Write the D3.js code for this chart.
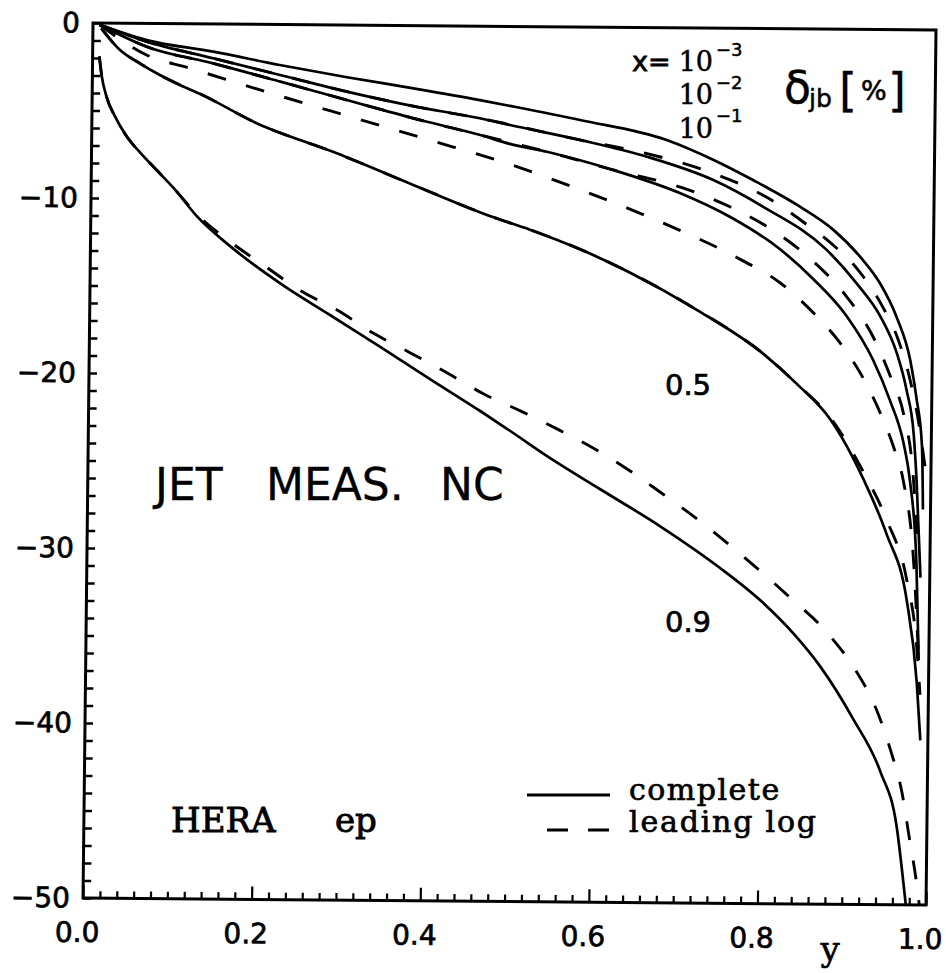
<!DOCTYPE html>
<html>
<head>
<meta charset="utf-8">
<script src="https://cdn.jsdelivr.net/npm/d3@7"></script>
<style>
  body { margin: 0; background: #fff; }
  svg { display: block; }
</style>
</head>
<body>
<svg id="chart" width="946" height="973"></svg>
<script>
// delta_jb [%] versus y for several x, HERA ep, jet measurement NC.
// Each series is a list of [y, delta] pairs.

// complete calculation
const completeX1e3 = [[0.008,-0.1],[0.064,-0.95],[0.143,-1.58],[0.222,-2.31],[0.302,-2.98],[0.381,-3.58],[0.46,-4.22],[0.496,-4.54],[0.579,-5.31],[0.682,-6.41],[0.738,-7.53],[0.785,-8.66],[0.841,-10.16],[0.881,-11.47],[0.913,-12.99],[0.937,-14.5],[0.957,-16.4],[0.974,-18.9],[0.982,-21.1],[0.989,-23.8],[0.991,-27.4]];
const completeX1e2 = [[0.008,-0.1],[0.064,-1.04],[0.143,-1.96],[0.2225,-2.88],[0.302,-3.8],[0.381,-4.6],[0.46,-5.26],[0.496,-5.63],[0.579,-6.45],[0.659,-7.38],[0.738,-8.68],[0.798,-10.2],[0.873,-12.6],[0.909,-14.5],[0.938,-16.4],[0.958,-18.5],[0.970,-20.6],[0.979,-23.1],[0.983,-25.7],[0.989,-31.3]];
const completeX1e1 = [[0.008,-0.1],[0.064,-1.33],[0.143,-2.25],[0.223,-3.26],[0.302,-4.28],[0.381,-5.29],[0.461,-6.22],[0.496,-6.71],[0.54,-7.14],[0.619,-8.15],[0.699,-9.45],[0.758,-10.77],[0.818,-12.6],[0.858,-14.3],[0.898,-16.4],[0.93,-18.9],[0.9505,-21.2],[0.967,-23.6],[0.975,-25.7],[0.984,-30.5],[0.988,-36.0]];
const completeX05 = [[0.01,-0.3],[0.0324,-1.53],[0.056,-2.28],[0.08,-2.94],[0.104,-3.5],[0.128,-4.0],[0.1955,-5.65],[0.291,-7.33],[0.382,-9.1],[0.477,-10.9],[0.521,-11.6],[0.581,-12.7],[0.64,-14.0],[0.72,-16.1],[0.80,-18.6],[0.84,-20.3],[0.88,-22.3],[0.92,-25.7],[0.948,-28.8],[0.973,-32.6],[0.986,-37.3],[0.991,-40.6]];
const completeX09 = [[0.008,-1.9],[0.011,-3.0],[0.017,-4.2],[0.027,-5.3],[0.042,-6.5],[0.058,-7.4],[0.078,-8.4],[0.098,-9.4],[0.126,-11.0],[0.166,-12.7],[0.226,-14.8],[0.286,-16.6],[0.346,-18.4],[0.405,-20.2],[0.465,-22.0],[0.5,-23.1],[0.55,-24.7],[0.608,-26.4],[0.68,-28.5],[0.75,-30.8],[0.80,-32.7],[0.84,-34.6],[0.871,-36.4],[0.911,-39.4],[0.944,-42.4],[0.964,-45.5],[0.973,-48.8],[0.976,-50]];

// leading log approximation
const leadingX1e3 = [[0.008,-0.1],[0.064,-1.04],[0.143,-1.96],[0.2225,-2.88],[0.302,-3.8],[0.381,-4.6],[0.46,-5.26],[0.579,-6.45],[0.659,-7.2],[0.738,-8.3],[0.8,-9.6],[0.85,-11.2],[0.88,-12.3],[0.91,-13.7],[0.94,-15.8],[0.96,-17.8],[0.975,-20.2],[0.985,-22.5],[0.993,-25.0]];
const leadingX1e2 = [[0.008,-0.1],[0.064,-1.33],[0.143,-2.25],[0.223,-3.26],[0.302,-4.28],[0.381,-5.29],[0.461,-6.22],[0.54,-7.14],[0.619,-8.15],[0.699,-9.1],[0.758,-10.2],[0.818,-11.8],[0.858,-13.3],[0.898,-15.3],[0.93,-17.6],[0.9505,-19.8],[0.967,-22.0],[0.978,-25.0],[0.986,-30.0]];
const leadingX1e1 = [[0.008,-0.1],[0.064,-1.8],[0.1157,-2.54],[0.212,-3.93],[0.309,-5.27],[0.403,-6.56],[0.493,-7.82],[0.56,-8.94],[0.671,-11.0],[0.771,-13.2],[0.818,-14.5],[0.858,-16.2],[0.89,-17.9],[0.915,-19.65],[0.939,-21.9],[0.955,-23.8],[0.967,-25.7],[0.98,-30.0],[0.988,-36.0]];
const leadingX05 = [[0.01,-0.3],[0.0324,-1.53],[0.056,-2.28],[0.08,-2.94],[0.104,-3.5],[0.128,-4.0],[0.1955,-5.65],[0.291,-7.33],[0.382,-9.1],[0.477,-10.9],[0.521,-11.6],[0.581,-12.7],[0.64,-14.0],[0.72,-16.1],[0.80,-18.6],[0.84,-20.3],[0.88,-22.2],[0.92,-25.3],[0.948,-28.0],[0.973,-31.5],[0.985,-35.0],[0.99,-38.0]];
const leadingX09 = [[0.008,-1.9],[0.011,-3.0],[0.017,-4.2],[0.027,-5.3],[0.042,-6.5],[0.058,-7.4],[0.078,-8.4],[0.098,-9.4],[0.126,-10.9],[0.1675,-12.5],[0.207,-13.8],[0.25,-15.2],[0.294,-16.3],[0.337,-17.6],[0.381,-18.7],[0.424,-19.8],[0.468,-21.0],[0.514,-22.0],[0.557,-23.0],[0.601,-24.1],[0.645,-25.4],[0.678,-26.5],[0.73,-28.3],[0.779,-30.2],[0.83,-32.3],[0.883,-34.7],[0.913,-36.6],[0.938,-38.8],[0.956,-41.2],[0.970,-43.6],[0.979,-46.1],[0.988,-48.6],[0.992,-50]];

const completeSeries = [completeX1e3, completeX1e2, completeX1e1, completeX05, completeX09];
const leadingSeries = [leadingX1e3, leadingX1e2, leadingX1e1, leadingX05, leadingX09];

// axis ticks and labels
const yMinorTicks = d3.range(0, -51, -1);
const yLabelTicks = [0, -10, -20, -30, -40, -50];
const xMinorTicks = d3.range(0, 51).map(i => i / 50);
const xLabelTicks = [0, 0.2, 0.4, 0.6, 0.8, 1.0];

const W = 843, H = 875;
const x = d3.scaleLinear().domain([0, 1]).range([0, W]);
const y = d3.scaleLinear().domain([0, -50]).range([0, H]);

const svg = d3.select("#chart");
svg.append("rect").attr("width", 946).attr("height", 973).attr("fill", "#fff");

// the plot frame sits slightly tilted on the page
const g = svg.append("g").attr("transform", "matrix(1,0.0083,-0.0114,1,93,23)");

g.append("defs").append("clipPath").attr("id", "plotClip")
  .append("rect").attr("x", 0).attr("y", -2).attr("width", W).attr("height", H + 2);

const line = d3.line().x(d => x(d[0])).y(d => y(d[1])).curve(d3.curveMonotoneX);

const curves = g.append("g").attr("clip-path", "url(#plotClip)")
  .attr("fill", "none").attr("stroke", "#000").attr("stroke-linecap", "butt");

curves.selectAll("path.complete").data(completeSeries).join("path")
  .attr("class", "complete").attr("d", line).attr("stroke-width", 2.7);

curves.selectAll("path.leading").data(leadingSeries).join("path")
  .attr("class", "leading").attr("d", line).attr("stroke-width", 2.9)
  .attr("stroke-dasharray", "19,21");

// ticks on the left and bottom edges, pointing inward
g.append("g").call(d3.axisLeft(y).tickValues(yMinorTicks).tickSize(-8).tickFormat(""))
  .call(s => s.select(".domain").remove())
  .selectAll("line").attr("stroke-width", 2.4);

g.append("g").attr("transform", `translate(0,${H})`)
  .call(d3.axisBottom(x).tickValues(xMinorTicks).tickSize(-7).tickFormat(""))
  .call(s => s.select(".domain").remove())
  .selectAll("line").attr("stroke-width", 2.2)
  .attr("y2", d => (Math.round(d * 50) % 10 === 0) ? -13 : -7);

// tick labels
const styleLabels = s => s.attr("font-family", "DejaVu Sans").attr("font-size", 28)
  .attr("fill", "#000").attr("stroke", "#000").attr("stroke-width", 0.7);

g.append("g").call(d3.axisLeft(y).tickValues(yLabelTicks).tickSize(0).tickPadding(13))
  .call(s => s.select(".domain").remove())
  .selectAll("text").call(styleLabels);

g.append("g").attr("transform", `translate(0,${H})`)
  .call(d3.axisBottom(x).tickValues(xLabelTicks).tickSize(0).tickPadding(24).tickFormat(d3.format(".1f")))
  .call(s => s.select(".domain").remove())
  .selectAll("text").call(styleLabels).attr("dx", -6);

// frame
g.append("rect").attr("x", 0).attr("y", 0).attr("width", W).attr("height", H)
  .attr("fill", "none").attr("stroke", "#000").attr("stroke-width", 3);

// annotations
const txt = (s, px, py, opts = {}) => svg.append("text")
  .attr("x", px).attr("y", py)
  .attr("font-family", opts.family || "DejaVu Sans")
  .attr("font-size", opts.size || 28)
  .attr("font-weight", opts.weight || "normal")
  .attr("text-anchor", opts.anchor || "start")
  .attr("letter-spacing", opts.spacing || 0)
  .attr("fill", "#000")
  .attr("stroke", "#000").attr("stroke-width", opts.bold || 0)
  .text(s);

// x values of the curve family
txt("x=", 632, 71, {size: 27, bold: 0.8});
txt("10", 713, 71, {family: "DejaVu Serif", size: 27, anchor: "end", bold: 0.5});
txt("\u22123", 716, 56, {size: 18, bold: 0.5});
txt("10", 713, 104, {family: "DejaVu Serif", size: 27, anchor: "end", bold: 0.5});
txt("\u22122", 716, 89, {size: 18, bold: 0.5});
txt("10", 713, 138, {family: "DejaVu Serif", size: 27, anchor: "end", bold: 0.5});
txt("\u22121", 716, 122, {size: 18, bold: 0.5});
txt("0.5", 688, 395, {size: 29, anchor: "middle", bold: 0.7});
txt("0.9", 688, 632, {size: 29, anchor: "middle", bold: 0.7});

// quantity shown
txt("\u03b4", 784, 103, {size: 44, bold: 0.5});
txt("jb", 809, 107, {size: 25, bold: 0.5});
txt("[", 839, 106, {size: 46, bold: 0.3});
txt("%", 861, 100, {size: 27, bold: 0.6});
txt("]", 888, 106, {size: 46, bold: 0.3});

// process labels
txt("JET", 155, 500, {size: 44, bold: 0.3});
txt("MEAS.", 266, 500, {size: 44, bold: 0.3});
txt("NC", 440, 500, {size: 44, bold: 0.3});
txt("HERA", 171, 832, {family: "DejaVu Serif", size: 34, bold: 0.9});
txt("ep", 335, 832, {family: "DejaVu Serif", size: 34, bold: 0.9});

// legend
svg.append("line").attr("x1", 527).attr("x2", 610).attr("y1", 795).attr("y2", 795)
  .attr("stroke", "#000").attr("stroke-width", 2.8);
svg.append("line").attr("x1", 547).attr("x2", 610).attr("y1", 830).attr("y2", 830)
  .attr("stroke", "#000").attr("stroke-width", 2.8).attr("stroke-dasharray", "21,20");
txt("complete", 629, 800, {family: "DejaVu Serif", size: 30, spacing: 1.5, bold: 0.7});
txt("leading log", 629, 832, {family: "DejaVu Serif", size: 30, spacing: 1.8, bold: 0.7});

// axis variable
txt("y", 830, 961, {family: "DejaVu Serif", size: 34, anchor: "middle", bold: 0.6});
</script>
</body>
</html>
